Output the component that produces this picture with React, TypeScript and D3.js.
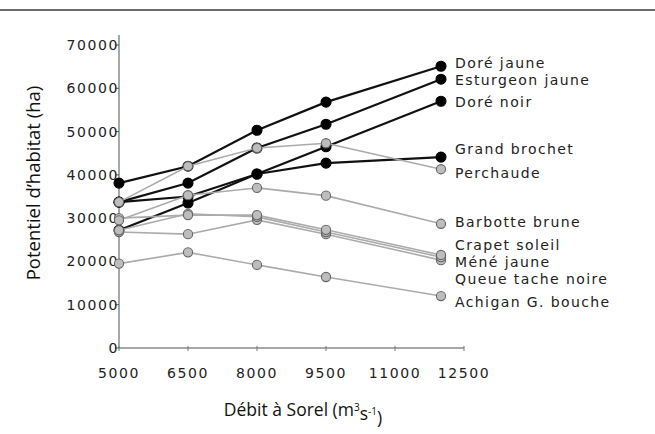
import React from "react";
import * as d3 from "d3";

const debits = [5000, 6500, 8000, 9500, 12000];
const xTicks = [5000, 6500, 8000, 9500, 11000, 12500];
const yTicks = [0, 10000, 20000, 30000, 40000, 50000, 60000, 70000];

const especes = [
  "Doré jaune",
  "Esturgeon jaune",
  "Doré noir",
  "Grand brochet",
  "Perchaude",
  "Barbotte brune",
  "Crapet soleil",
  "Méné jaune",
  "Queue tache noire",
  "Achigan G. bouche",
];

const doreJaune = [38100, 42000, 50300, 56800, 65100];
const esturgeonJaune = [33700, 38100, 46200, 51700, 62100];
const doreNoir = [27200, 33500, 40200, 46500, 57000];
const grandBrochet = [33700, 35000, 40200, 42700, 44100];
const perchaude = [33700, 42000, 46200, 47300, 41300];
const barbotteBrune = [29500, 35300, 37000, 35200, 28700];
const crapetSoleil = [30000, 30700, 30700, 27300, 21500];
const meneJaune = [27200, 31000, 30300, 26800, 21000];
const queueTacheNoire = [26800, 26300, 29600, 26300, 20300];
const achigan = [19500, 22100, 19200, 16400, 12000];

const valeurs = [
  doreJaune,
  esturgeonJaune,
  doreNoir,
  grandBrochet,
  perchaude,
  barbotteBrune,
  crapetSoleil,
  meneJaune,
  queueTacheNoire,
  achigan,
];

// true = filled black markers, false = open grey markers
const pleins = [true, true, true, true, false, false, false, false, false, false];

// vertical nudges (px) so end labels do not collide
const decalages = [-3, 1, 1, -8, 4, -2, -10, 5, 19, 6];

const W = 655;
const H = 434;
const left = 119;
const right = 464;
const top = 45;
const bottom = 348;

export default function App() {
  const x = d3.scaleLinear().domain([5000, 12500]).range([left, right]);
  const y = d3.scaleLinear().domain([0, 70000]).range([bottom, top]);
  const line = d3
    .line<number>()
    .x((_, i) => x(debits[i]))
    .y((v) => y(v));

  // black series first, grey ones drawn on top
  const blackIdx = d3.range(especes.length).filter((i) => pleins[i]);
  const greyIdx = d3.range(especes.length).filter((i) => !pleins[i]).reverse();

  const tickFont = { fontFamily: "DejaVu Sans", fontSize: 14, letterSpacing: 1.6, fill: "#222" };

  const renderSeries = (i: number) => {
    const vals = valeurs[i];
    const filled = pleins[i];
    return (
      <g key={especes[i]}>
        <path
          d={line(vals) || ""}
          fill="none"
          stroke={filled ? "#111" : "#ababab"}
          strokeWidth={filled ? 2.2 : 1.6}
        />
        {vals.map((v, j) => (
          <circle
            key={j}
            cx={x(debits[j])}
            cy={y(v)}
            r={filled ? 5 : 4.6}
            fill={filled ? "#000" : "#bdbdbd"}
            stroke={filled ? "#000" : "#666"}
            strokeWidth={1.1}
          />
        ))}
      </g>
    );
  };

  return (
    <svg
      width={W}
      height={H}
      style={{ position: "absolute", left: 0, top: 0, background: "#fff", display: "block" }}
    >
      <rect x={0} y={0} width={W} height={H} fill="#fff" />
      <line x1={0} x2={W} y1={10} y2={10} stroke="#6a6a6a" strokeWidth={2} />

      {/* y axis */}
      <line x1={left} x2={left} y1={35} y2={bottom} stroke="#8a8a8a" strokeWidth={1.5} />
      {yTicks.map((t) => (
        <g key={t}>
          <line x1={left - 4} x2={left} y1={y(t)} y2={y(t)} stroke="#555" strokeWidth={1} />
          <text x={left} y={y(t)} dy="0.36em" textAnchor="end" {...tickFont}>
            {t}
          </text>
        </g>
      ))}

      {/* x axis */}
      <line x1={left} x2={right} y1={bottom} y2={bottom} stroke="#8a8a8a" strokeWidth={1.5} />
      {xTicks.map((t) => (
        <g key={t}>
          <line x1={x(t)} x2={x(t)} y1={bottom - 2} y2={bottom + 3} stroke="#777" strokeWidth={1} />
          <text x={x(t)} y={bottom + 25} dy="0.36em" textAnchor="middle" {...tickFont}>
            {t}
          </text>
        </g>
      ))}

      {blackIdx.map(renderSeries)}
      {greyIdx.map(renderSeries)}

      {/* end labels */}
      {especes.map((nom, i) => (
        <text
          key={nom}
          x={x(debits[debits.length - 1]) + 14}
          y={y(valeurs[i][debits.length - 1]) + decalages[i]}
          dy="0.36em"
          fontFamily="DejaVu Sans"
          fontSize={14}
          letterSpacing={1.4}
          fill="#222"
        >
          {nom}
        </text>
      ))}

      {/* axis titles */}
      <text
        transform={`translate(33,${183}) rotate(-90)`}
        textAnchor="middle"
        dy="0.36em"
        fontFamily="Open Sans"
        fontSize={18.5}
        fill="#111"
      >
        Potentiel d’habitat (ha)
      </text>
      <text
        x={303}
        y={410}
        dy="0.36em"
        textAnchor="middle"
        fontFamily="Open Sans"
        fontSize={17.5}
        fill="#111"
      >
        Débit à Sorel (m
        <tspan dy="-0.5em" fontSize={10}>3</tspan>
        <tspan dy="0.5em">s</tspan>
        <tspan dy="-0.5em" fontSize={10}>-1</tspan>
        <tspan dy="0.5em">)</tspan>
      </text>
    </svg>
  );
}
